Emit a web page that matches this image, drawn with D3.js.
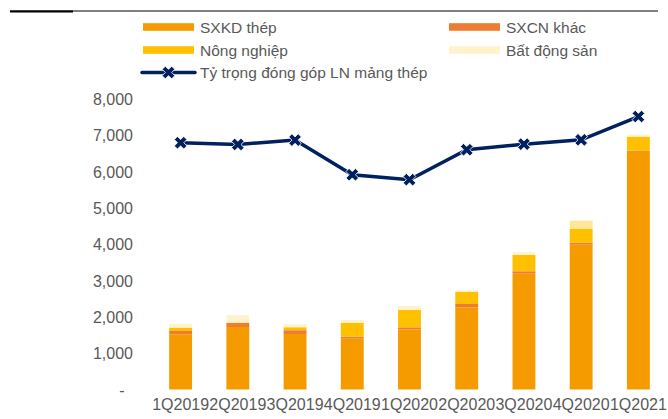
<!DOCTYPE html>
<html>
<head>
<meta charset="utf-8">
<script src="https://cdn.jsdelivr.net/npm/d3@7"></script>
<style>
  html, body { margin: 0; padding: 0; background: #fff; }
  svg { display: block; font-family: "Liberation Sans", Arial, sans-serif; }
</style>
</head>
<body>
<svg id="chart" width="668" height="419"></svg>
<script>
// Quarters on the x axis
const quarters = ["1Q2019", "2Q2019", "3Q2019", "4Q2019", "1Q2020", "2Q2020", "3Q2020", "4Q2020", "1Q2021"];

// Profit by segment (tỷ đồng), stacked bottom to top
const sxkdThep   = [1518, 1718, 1525, 1397, 1655, 2260, 3184, 3981, 6565];
const sxcnKhac   = [  91,  110,  105,   55,   55,   91,   66,   55,   10];
const nongNghiep = [  91,   10,   82,  377,  476,  338,  448,  377,  377];
const batDongSan = [ 110,  210,   80,   82,  110,   38,   74,  228,   55];

// Share of steel segment in total profit (%)
const tyTrongThep = [84.8, 84.2, 85.7, 73.8, 72.1, 82.4, 84.3, 85.8, 93.8];

// Left axis ticks
const yTicks = [0, 1000, 2000, 3000, 4000, 5000, 6000, 7000, 8000];

const seriesNames = ["SXKD thép", "SXCN khác", "Nông nghiệp", "Bất động sản"];
const seriesValues = [sxkdThep, sxcnKhac, nongNghiep, batDongSan];
const lineName = "Tỷ trọng đóng góp LN mảng thép";

const colors = {
  "SXKD thép": "#F59B00",
  "SXCN khác": "#ED7D31",
  "Nông nghiệp": "#FFC000",
  "Bất động sản": "#FFF2CC"
};
const lineColor = "#002060";
const textColor = "#595959";

const svg = d3.select("#chart");

// Header rule
svg.append("line").attr("x1", 10).attr("x2", 658).attr("y1", 11).attr("y2", 11)
  .attr("stroke", "#000").attr("stroke-width", 1);
svg.append("line").attr("x1", 10).attr("x2", 73).attr("y1", 11.5).attr("y2", 11.5)
  .attr("stroke", "#000").attr("stroke-width", 2);

// Scales
const x = d3.scaleBand().domain(quarters).range([152, 667]).paddingInner(0.6).paddingOuter(0.3);
const y = d3.scaleLinear().domain([0, 8000]).range([389.5, 98.5]);
const y2 = d3.scaleLinear().domain([0, 100]).range([389.5, 98.5]);

// Stacked data
const table = quarters.map((q, i) => {
  const row = { q };
  seriesNames.forEach((s, k) => row[s] = seriesValues[k][i]);
  return row;
});
const stacked = d3.stack().keys(seriesNames)(table);

const layers = svg.append("g").selectAll("g").data(stacked).join("g")
  .attr("fill", d => colors[d.key]);
layers.selectAll("rect").data(d => d.map(p => ({ p, key: d.key }))).join("rect")
  .attr("x", d => x(d.p.data.q))
  .attr("width", x.bandwidth())
  .attr("y", d => y(d.p[1]))
  .attr("height", d => Math.max(0, y(d.p[0]) - y(d.p[1])))
  .attr("fill", d => (d.key === "Bất động sản" && d.p.data.q === "4Q2020") ? "#FFE699" : colors[d.key]);

// Left axis labels
const yAxis = d3.axisLeft(y).tickValues(yTicks).tickSize(0).tickPadding(0)
  .tickFormat(v => v === 0 ? "-" : d3.format(",")(v));
const gy = svg.append("g").attr("transform", "translate(133,0)").call(yAxis);
gy.select(".domain").remove();
gy.selectAll("text").attr("fill", textColor).style("font-size", "16px")
  .attr("dy", "0.36em")
  .attr("dx", v => v === 0 ? -8.5 : 0);

// Bottom axis labels
const xAxis = d3.axisBottom(x).tickSize(0).tickPadding(0);
const gx = svg.append("g").attr("transform", "translate(0,398)").call(xAxis);
gx.select(".domain").remove();
gx.selectAll("text").attr("fill", textColor).style("font-size", "16px").attr("dy", "0.75em");

// Steel share line
const cx = i => x(quarters[i]) + x.bandwidth() / 2;
const line = d3.line().x((d, i) => cx(i)).y(d => y2(d));
svg.append("path").datum(tyTrongThep)
  .attr("fill", "none").attr("stroke", lineColor).attr("stroke-width", 3.5)
  .attr("d", line);

const marker = d3.symbol().type(d3.symbolCross).size(100);
svg.append("g").selectAll("path").data(tyTrongThep).join("path")
  .attr("d", marker)
  .attr("transform", (d, i) => `translate(${cx(i)},${y2(d)}) rotate(45)`)
  .attr("fill", lineColor).attr("stroke", "#fff").attr("stroke-width", 0.8);

// Legend
const legend = svg.append("g").style("font-size", "15.5px");
const legendItems = [
  { name: "SXKD thép", col: 0, row: 0 },
  { name: "SXCN khác", col: 1, row: 0 },
  { name: "Nông nghiệp", col: 0, row: 1 },
  { name: "Bất động sản", col: 1, row: 1 }
];
const colX = [143, 449];
const rowY = [27, 50, 72.5];
legendItems.forEach(it => {
  legend.append("rect")
    .attr("x", colX[it.col]).attr("y", rowY[it.row] - 3.8)
    .attr("width", 51).attr("height", 7.6)
    .attr("fill", colors[it.name]);
  legend.append("text")
    .attr("x", colX[it.col] + 57).attr("y", rowY[it.row])
    .attr("dy", "0.36em").attr("fill", textColor).text(it.name);
});
legend.append("line")
  .attr("x1", 142).attr("x2", 195).attr("y1", rowY[2]).attr("y2", rowY[2])
  .attr("stroke", lineColor).attr("stroke-width", 3.5).attr("stroke-linecap", "round");
legend.append("path").attr("d", marker)
  .attr("transform", `translate(168.5,${rowY[2]}) rotate(45)`)
  .attr("fill", lineColor).attr("stroke", "#fff").attr("stroke-width", 0.8);
legend.append("text")
  .attr("x", 200).attr("y", rowY[2]).attr("dy", "0.36em")
  .attr("fill", textColor).text(lineName);
</script>
</body>
</html>
